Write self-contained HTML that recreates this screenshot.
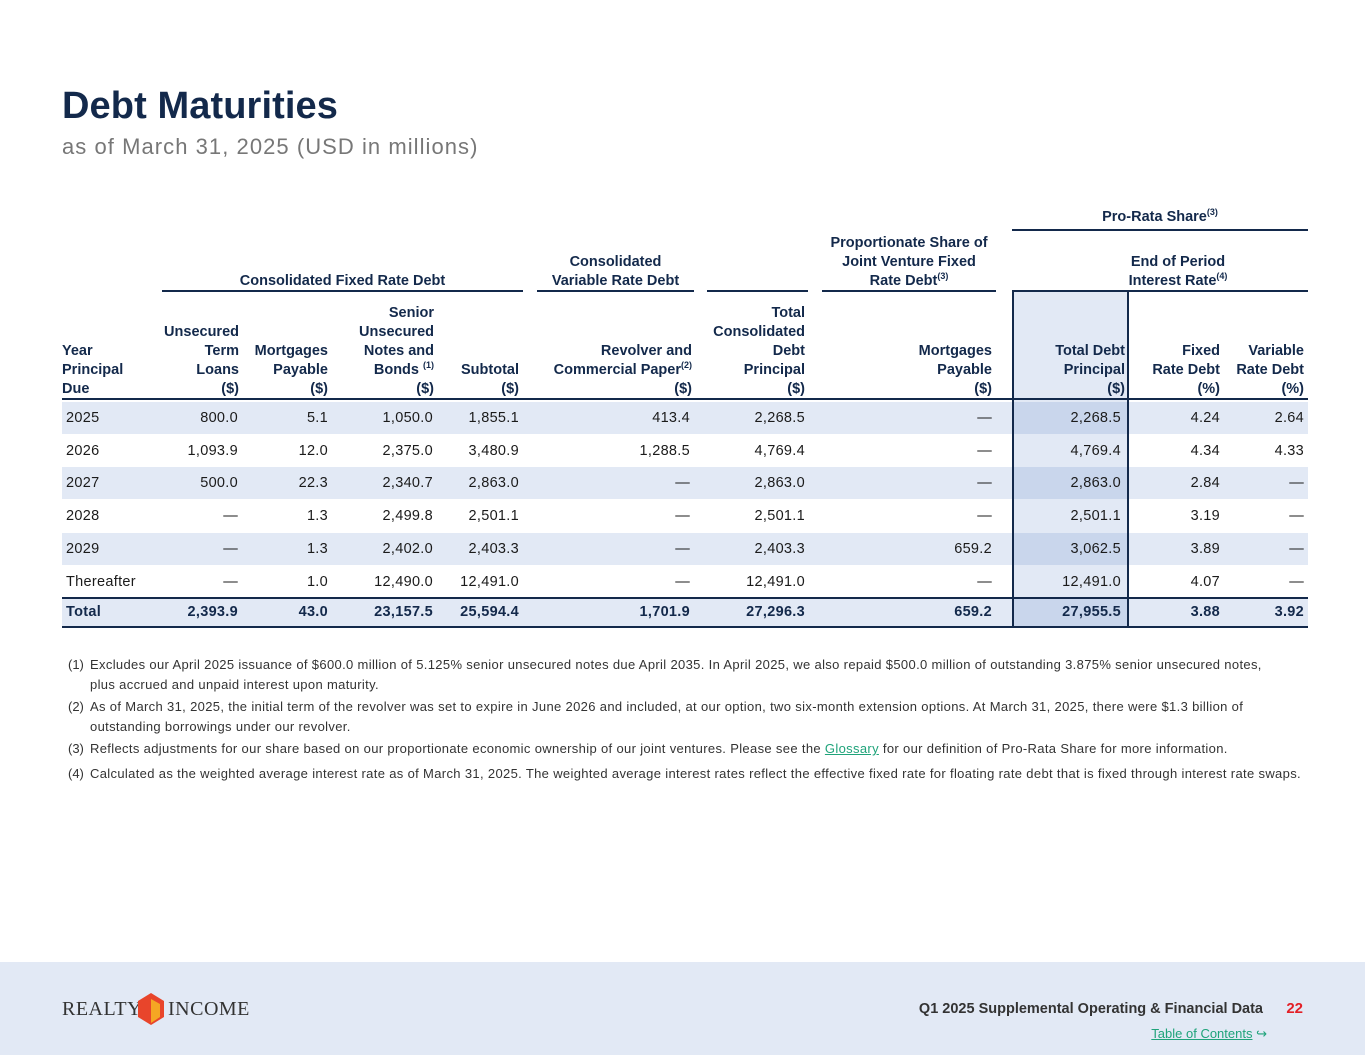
<!DOCTYPE html>
<html><head><meta charset="utf-8"><style>
*{margin:0;padding:0;box-sizing:border-box}
body{width:1365px;height:1055px;background:#fff;position:relative;font-family:"Liberation Sans",sans-serif;color:#1b1b1b;overflow:hidden}
.a{position:absolute}
h1{position:absolute;left:62px;top:85px;font-size:38px;font-weight:bold;color:#13294b;letter-spacing:0.1px}
.sub{left:62px;top:134px;font-size:22px;color:#777;letter-spacing:1.05px}
.h{font-family:"Liberation Sans Narrow","Liberation Sans",sans-serif;font-weight:bold;font-size:14.5px;line-height:19px;color:#13294b}
.hr{text-align:right}
.hc{text-align:center}
.ln{height:2px;background:#13294b}
.row{position:absolute;left:62px;width:1246px;height:32px}
.sh{background:#e2e9f5}
.c{position:absolute;font-size:14.5px;line-height:32px;text-align:right;white-space:nowrap;letter-spacing:0.3px}
sup{font-size:9px;vertical-align:6px;line-height:0}
.fn{left:90px;width:1240px;font-size:13px;line-height:20px;color:#333;letter-spacing:0.34px;white-space:nowrap}
.fn span{position:absolute;left:-22px;letter-spacing:0}
</style></head><body>
<h1>Debt Maturities</h1>
<div class="a sub">as of March 31, 2025 (USD in millions)</div>

<div class="a" style="left:1012px;top:290px;width:117px;height:338px;background:#e2e9f5;border:2px solid #13294b;border-bottom:none"></div>

<div class="a h hc" style="left:1012px;top:208px;width:296px">Pro-Rata Share<sup>(3)</sup></div>
<div class="a ln" style="left:1012px;top:229px;width:296px"></div>
<div class="a h hc" style="left:162px;top:272px;width:361px">Consolidated Fixed Rate Debt</div>
<div class="a h hc" style="left:537px;top:253px;width:157px">Consolidated<br>Variable Rate Debt</div>
<div class="a h hc" style="left:822px;top:234px;width:174px">Proportionate Share of<br>Joint Venture Fixed<br>Rate Debt<sup>(3)</sup></div>
<div class="a h hc" style="left:1048px;top:253px;width:260px">End of Period<br>Interest Rate<sup>(4)</sup></div>
<div class="a ln" style="left:162px;top:290px;width:361px"></div>
<div class="a ln" style="left:537px;top:290px;width:157px"></div>
<div class="a ln" style="left:707px;top:290px;width:101px"></div>
<div class="a ln" style="left:822px;top:290px;width:174px"></div>
<div class="a ln" style="left:1048px;top:290px;width:260px"></div>

<div class="a h" style="left:62px;top:342px">Year<br>Principal<br>Due</div>
<div class="a h hr" style="right:1126px;top:323px">Unsecured<br>Term<br>Loans<br>($)</div>
<div class="a h hr" style="right:1037px;top:342px">Mortgages<br>Payable<br>($)</div>
<div class="a h hr" style="right:931px;top:304px">Senior<br>Unsecured<br>Notes and<br>Bonds <sup>(1)</sup><br>($)</div>
<div class="a h hr" style="right:846px;top:361px">Subtotal<br>($)</div>
<div class="a h hr" style="right:673px;top:342px">Revolver and<br>Commercial Paper<sup>(2)</sup><br>($)</div>
<div class="a h hr" style="right:560px;top:304px">Total<br>Consolidated<br>Debt<br>Principal<br>($)</div>
<div class="a h hr" style="right:373px;top:342px">Mortgages<br>Payable<br>($)</div>
<div class="a h hr" style="right:240px;top:342px">Total Debt<br>Principal<br>($)</div>
<div class="a h hr" style="right:145px;top:342px">Fixed<br>Rate Debt<br>(%)</div>
<div class="a h hr" style="right:61px;top:342px">Variable<br>Rate Debt<br>(%)</div>
<div class="a ln" style="left:62px;top:398px;width:1246px"></div>

<div id="rows"></div>
<script>
const R=[["2025","800.0","5.1","1,050.0","1,855.1","413.4","2,268.5","—","2,268.5","4.24","2.64"],
["2026","1,093.9","12.0","2,375.0","3,480.9","1,288.5","4,769.4","—","4,769.4","4.34","4.33"],
["2027","500.0","22.3","2,340.7","2,863.0","—","2,863.0","—","2,863.0","2.84","—"],
["2028","—","1.3","2,499.8","2,501.1","—","2,501.1","—","2,501.1","3.19","—"],
["2029","—","1.3","2,402.0","2,403.3","—","2,403.3","659.2","3,062.5","3.89","—"],
["Thereafter","—","1.0","12,490.0","12,491.0","—","12,491.0","—","12,491.0","4.07","—"],
["Total","2,393.9","43.0","23,157.5","25,594.4","1,701.9","27,296.3","659.2","27,955.5","3.88","3.92"]];
const rights=[238,328,433,519,690,805,992,1121,1220,1304];
const tops=[402,435,467,500,533,566,598];
let h="";
R.forEach((r,i)=>{const tot=i==6;const sh=(i%2==0);
h+=`<div class="row${sh?' sh':''}" style="top:${tops[i]}px;height:${tot?29:32}px"></div>`;
h+=`<div class="a" style="left:1012px;top:${tops[i]}px;width:117px;height:${tot?29:32}px;background:${sh?'#c9d6ec':'#e2e9f5'};border-left:2px solid #13294b;border-right:2px solid #13294b"></div>`;
const fw=tot?'font-weight:bold;color:#13294b;':'';
const lh=tot?'line-height:29px;':'';
h+=`<div class="c" style="left:66px;top:${tops[i]}px;text-align:left;${fw}${lh}">${r[0]}</div>`;
for(let j=1;j<11;j++)h+=`<div class="c" style="right:${1365-rights[j-1]}px;top:${tops[i]}px;${fw}${lh}">${r[j]}</div>`;
});
h+=`<div class="a ln" style="left:62px;top:597px;width:1246px"></div><div class="a ln" style="left:62px;top:626px;width:1246px"></div>`;
document.getElementById('rows').innerHTML=h;
</script>

<div class="a fn" style="top:655px"><span>(1)</span>Excludes our April 2025 issuance of $600.0 million of 5.125% senior unsecured notes due April 2035. In April 2025, we also repaid $500.0 million of outstanding 3.875% senior unsecured notes,<br>plus accrued and unpaid interest upon maturity.</div>
<div class="a fn" style="top:697px"><span>(2)</span>As of March 31, 2025, the initial term of the revolver was set to expire in June 2026 and included, at our option, two six-month extension options. At March 31, 2025, there were $1.3 billion of<br>outstanding borrowings under our revolver.</div>
<div class="a fn" style="top:739px"><span>(3)</span>Reflects adjustments for our share based on our proportionate economic ownership of our joint ventures. Please see the <u style="color:#1fa37a">Glossary</u> for our definition of Pro-Rata Share for more information.</div>
<div class="a fn" style="top:764px"><span>(4)</span>Calculated as the weighted average interest rate as of March 31, 2025. The weighted average interest rates reflect the effective fixed rate for floating rate debt that is fixed through interest rate swaps.</div>

<div class="a" style="left:0;top:962px;width:1365px;height:93px;background:#e2e9f5"></div>
<div class="a" style="left:62px;top:998px;font-family:'Liberation Serif',serif;font-size:20px;color:#333;letter-spacing:0.5px">REALTY</div>
<svg class="a" style="left:138px;top:993px" width="26" height="32"><polygon points="13,0 26,8 26,24 13,32 0,24 0,8" fill="#e8452b"/><polygon points="13,6 22,11 22,24 13,30" fill="#f5a623"/></svg>
<div class="a" style="left:168px;top:998px;font-family:'Liberation Serif',serif;font-size:20px;color:#333;letter-spacing:0.5px">INCOME</div>
<div class="a" style="right:102px;top:1001px;font-family:'Liberation Sans Narrow','Liberation Sans',sans-serif;font-size:14.5px;font-weight:bold;color:#333">Q1 2025 Supplemental Operating &amp; Financial Data</div>
<div class="a" style="right:62px;top:1000px;font-size:15px;font-weight:bold;color:#e31f26">22</div>
<div class="a" style="right:98px;top:1026px;font-size:13px;color:#1fa37a"><u>Table of Contents</u> ↪</div>
</body></html>
